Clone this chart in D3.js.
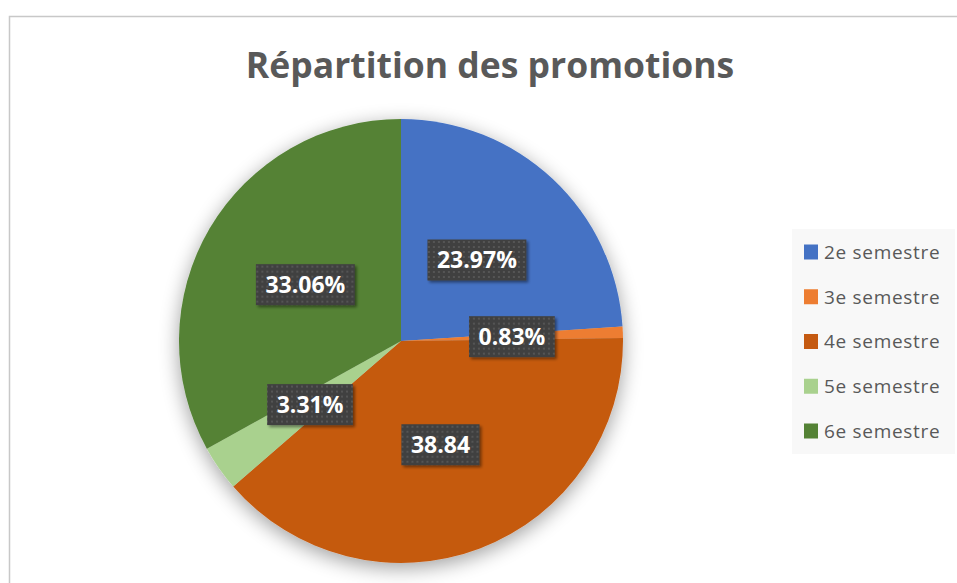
<!DOCTYPE html>
<html>
<head>
<meta charset="utf-8">
<script src="https://cdn.jsdelivr.net/npm/d3@7"></script>
<style>
  body { margin: 0; background: #fff; }
  svg { display: block; }
</style>
</head>
<body>
<div id="chart"></div>
<script>
// Data
const categories = ['2e semestre', '3e semestre', '4e semestre', '5e semestre', '6e semestre']
const counts = [29, 1, 47, 4, 40]
const labels = ['23.97%', '0.83%', '38.84', '3.31%', '33.06%']
const colors = ['#4472C4', '#ED7D31', '#C55A11', '#A9D18E', '#548235']
const title = 'Répartition des promotions'

const dimensions = { width: 957, height: 583 }
const center = { x: 401, y: 341 }
const radius = 222

const wrapper = d3.select('#chart').append('svg')
    .attr('width', dimensions.width)
    .attr('height', dimensions.height)

const defs = wrapper.append('defs')

// soft shadow round the pie
const pieShadow = defs.append('filter')
    .attr('id', 'pie-shadow')
    .attr('x', '-30%').attr('y', '-30%')
    .attr('width', '160%').attr('height', '160%')
pieShadow.append('feGaussianBlur').attr('in', 'SourceAlpha').attr('stdDeviation', 10)
pieShadow.append('feOffset').attr('dy', 5).attr('result', 'blur')
pieShadow.append('feComponentTransfer').append('feFuncA').attr('type', 'linear').attr('slope', 0.38)
const psMerge = pieShadow.append('feMerge')
psMerge.append('feMergeNode')
psMerge.append('feMergeNode').attr('in', 'SourceGraphic')

// small shadow under the label boxes
const boxShadow = defs.append('filter')
    .attr('id', 'box-shadow')
    .attr('x', '-20%').attr('y', '-30%')
    .attr('width', '150%').attr('height', '170%')
boxShadow.append('feGaussianBlur').attr('in', 'SourceAlpha').attr('stdDeviation', 1.5)
boxShadow.append('feOffset').attr('dx', 2).attr('dy', 2)
boxShadow.append('feComponentTransfer').append('feFuncA').attr('type', 'linear').attr('slope', 0.45)
const bsMerge = boxShadow.append('feMerge')
bsMerge.append('feMergeNode')
bsMerge.append('feMergeNode').attr('in', 'SourceGraphic')

// dotted dark fill for labels
const dots = defs.append('pattern')
    .attr('id', 'dots')
    .attr('patternUnits', 'userSpaceOnUse')
    .attr('width', 5).attr('height', 5)
dots.append('rect').attr('width', 5).attr('height', 5).attr('fill', '#404040')
dots.append('rect').attr('x', 1).attr('y', 1).attr('width', 2).attr('height', 2).attr('fill', '#555555')

// chart frame
wrapper.append('rect')
    .attr('x', 9.5).attr('y', 16.5)
    .attr('width', 960).attr('height', 580)
    .attr('fill', '#fff')
    .attr('stroke', '#c8c8c8')
    .attr('stroke-width', 1.5)

// title
wrapper.append('text')
    .attr('x', 490)
    .attr('y', 78)
    .attr('text-anchor', 'middle')
    .style('font-family', '"Open Sans", sans-serif')
    .style('font-weight', 700)
    .style('font-size', '35.5px')
    .attr('fill', '#595959')
    .text(title)

// pie
const pie = d3.pie().sort(null).value(d => d)
const arcs = pie(counts)
const arc = d3.arc().innerRadius(0).outerRadius(radius)

const bounds = wrapper.append('g')
    .attr('transform', `translate(${center.x}, ${center.y})`)

bounds.append('g')
    .attr('filter', 'url(#pie-shadow)')
  .selectAll('path')
    .data(arcs)
    .enter()
    .append('path')
        .attr('d', arc)
        .attr('fill', (d, i) => colors[i])

// data labels
const labelGroups = bounds.selectAll('.data-label')
    .data(arcs)
    .enter()
    .append('g')
        .attr('class', 'data-label')
        .attr('transform', d => `translate(${arc.centroid(d)})`)

labelGroups.append('rect')
    .attr('fill', 'url(#dots)')
    .attr('filter', 'url(#box-shadow)')

labelGroups.append('text')
    .attr('text-anchor', 'middle')
    .attr('dy', '0.36em')
    .style('font-family', '"Open Sans", sans-serif')
    .style('font-weight', 700)
    .style('font-size', '23px')
    .attr('fill', '#fff')
    .text((d, i) => labels[i])

labelGroups.each(function() {
    const g = d3.select(this)
    const w = g.select('text').node().getComputedTextLength() + 19
    const h = 41
    g.select('rect')
        .attr('x', -w / 2).attr('y', -h / 2)
        .attr('width', w).attr('height', h)
})

// legend
const legendY = d3.scalePoint()
    .domain(categories)
    .range([252, 431])

wrapper.append('rect')
    .attr('x', 792).attr('y', 229)
    .attr('width', 163).attr('height', 225)
    .attr('fill', '#f8f8f8')

const legendItems = wrapper.selectAll('.legend-item')
    .data(categories)
    .enter()
    .append('g')
        .attr('class', 'legend-item')
        .attr('transform', d => `translate(804, ${legendY(d)})`)

legendItems.append('rect')
    .attr('x', 0).attr('y', -7.5)
    .attr('width', 14).attr('height', 15)
    .attr('fill', (d, i) => colors[i])

legendItems.append('text')
    .attr('x', 20)
    .attr('dy', '0.36em')
    .style('font-family', '"Open Sans", sans-serif')
    .style('font-size', '19px')
    .style('letter-spacing', '0.7px')
    .attr('fill', '#595959')
    .text(d => d)
</script>
</body>
</html>
